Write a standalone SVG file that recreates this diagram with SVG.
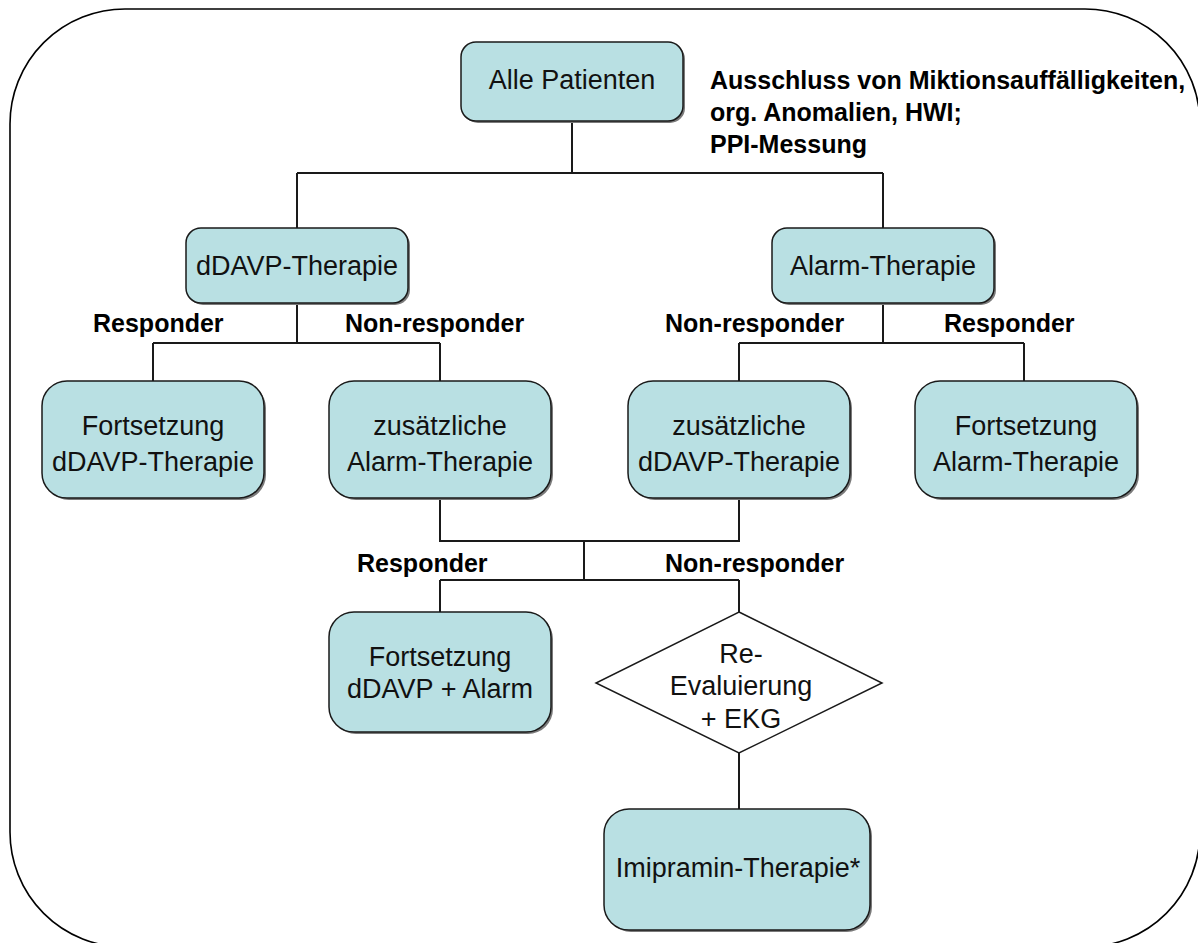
<svg xmlns="http://www.w3.org/2000/svg" width="1198" height="943" viewBox="0 0 1198 943">
<style>
.box{fill:#B9E0E3;stroke:#1a1a1a;stroke-width:1.5}
.sh{fill:#7a7a7a}
.t{font-family:"Liberation Sans",Arial,sans-serif;font-size:27px;fill:#111;text-anchor:middle}
.b{font-family:"Liberation Sans",Arial,sans-serif;font-size:25px;font-weight:bold;fill:#000}
.c{fill:none;stroke:#1a1a1a;stroke-width:2}
</style>
<rect width="1198" height="943" fill="#fff"/>
<rect id="frame" x="10" y="9" width="1190" height="938" rx="115" ry="115" fill="none" stroke="#000" stroke-width="1.6"/>
<g id="connectors">
<path class="c" d="M572 121V173M297 173H883M297 173V228M883 173V228"/>
<path class="c" d="M297 303V343M153 343H440M153 343V381M440 343V381"/>
<path class="c" d="M883 303V343M739 343H1024M739 343V381M1024 343V381"/>
<path class="c" d="M440 498V541H739V498M584 541V580M440 580H739M440 580V612M739 580V612"/>
<path class="c" d="M739 753V809"/>
</g>
<g id="n_alle">
<rect class="sh" x="463" y="44" width="222" height="79" rx="15"/>
<rect class="box" x="461" y="42" width="222" height="79" rx="15"/>
<text class="t" x="572" y="89">Alle Patienten</text>
</g>
<g id="note">
<text class="b" x="710" y="89">Ausschluss von Miktionsauffälligkeiten,</text>
<text class="b" x="710" y="121">org. Anomalien, HWI;</text>
<text class="b" x="710" y="153">PPI-Messung</text>
</g>
<g id="n_ddavp">
<rect class="sh" x="188" y="230" width="222" height="75" rx="15"/>
<rect class="box" x="186" y="228" width="222" height="75" rx="15"/>
<text class="t" x="297" y="275">dDAVP-Therapie</text>
</g>
<g id="n_alarm">
<rect class="sh" x="774" y="230" width="222" height="75" rx="15"/>
<rect class="box" x="772" y="228" width="222" height="75" rx="15"/>
<text class="t" x="883" y="275">Alarm-Therapie</text>
</g>
<g id="labels">
<text class="b" x="93" y="332">Responder</text>
<text class="b" x="345" y="332">Non-responder</text>
<text class="b" x="665" y="332">Non-responder</text>
<text class="b" x="944" y="332">Responder</text>
<text class="b" x="357" y="572">Responder</text>
<text class="b" x="665" y="572">Non-responder</text>
</g>
<g id="n_fort_ddavp">
<rect class="sh" x="44" y="383" width="222" height="117" rx="25"/>
<rect class="box" x="42" y="381" width="222" height="117" rx="25"/>
<text class="t" x="153" y="435">Fortsetzung</text>
<text class="t" x="153" y="471">dDAVP-Therapie</text>
</g>
<g id="n_zus_alarm">
<rect class="sh" x="331" y="383" width="222" height="117" rx="25"/>
<rect class="box" x="329" y="381" width="222" height="117" rx="25"/>
<text class="t" x="440" y="435">zusätzliche</text>
<text class="t" x="440" y="471">Alarm-Therapie</text>
</g>
<g id="n_zus_ddavp">
<rect class="sh" x="630" y="383" width="222" height="117" rx="25"/>
<rect class="box" x="628" y="381" width="222" height="117" rx="25"/>
<text class="t" x="739" y="435">zusätzliche</text>
<text class="t" x="739" y="471">dDAVP-Therapie</text>
</g>
<g id="n_fort_alarm">
<rect class="sh" x="917" y="383" width="222" height="117" rx="25"/>
<rect class="box" x="915" y="381" width="222" height="117" rx="25"/>
<text class="t" x="1026" y="435">Fortsetzung</text>
<text class="t" x="1026" y="471">Alarm-Therapie</text>
</g>
<g id="n_fort_both">
<rect class="sh" x="331" y="614" width="222" height="120" rx="25"/>
<rect class="box" x="329" y="612" width="222" height="120" rx="25"/>
<text class="t" x="440" y="666">Fortsetzung</text>
<text class="t" x="440" y="698">dDAVP + Alarm</text>
</g>
<g id="n_reeval">
<polygon points="739,612 882,683 739,753 596,683" fill="#fff" stroke="#1a1a1a" stroke-width="1.5"/>
<text class="t" x="741" y="663">Re-</text>
<text class="t" x="741" y="695">Evaluierung</text>
<text class="t" x="741" y="728">+ EKG</text>
</g>
<g id="n_imipramin">
<rect class="sh" x="606" y="811" width="266" height="121" rx="25"/>
<rect class="box" x="604" y="809" width="266" height="121" rx="25"/>
<text class="t" x="738" y="877">Imipramin-Therapie*</text>
</g>
</svg>
